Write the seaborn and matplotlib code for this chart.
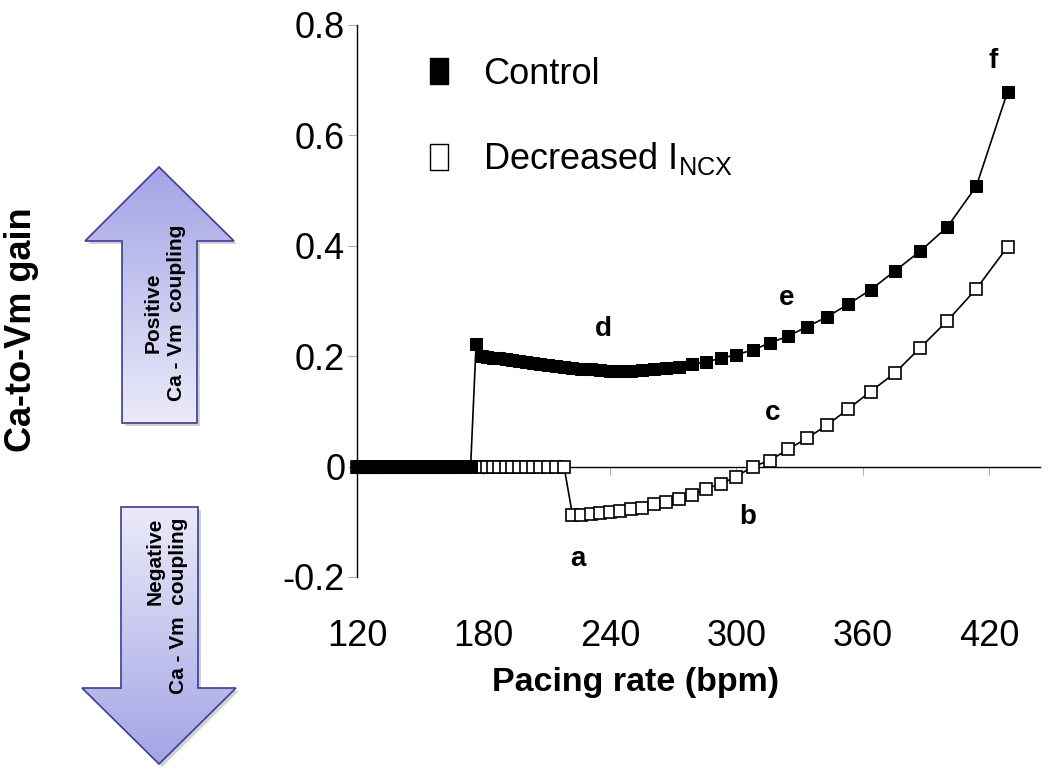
import matplotlib
matplotlib.use("Agg")
import matplotlib.pyplot as plt
import numpy as np
import seaborn as sns
from matplotlib.lines import Line2D
from matplotlib.patches import Polygon

# pacing rates (bpm), one per pacing cycle length
rates = [120.0, 121.2, 122.4, 123.7, 125.0, 126.3, 127.7, 129.0, 130.4, 131.9,
         133.3, 134.8, 136.4, 137.9, 139.5, 141.2, 142.9, 144.6, 146.3, 148.1,
         150.0, 151.9, 153.8, 155.8, 157.9, 160.0, 162.2, 164.4, 166.7, 169.0,
         171.4, 173.9, 176.5, 179.1, 181.8, 184.6, 187.5, 190.5, 193.5, 196.7,
         200.0, 203.4, 206.9, 210.5, 214.3, 218.2, 222.2, 226.4, 230.8, 235.3,
         240.0, 244.9, 250.0, 255.3, 260.9, 266.7, 272.7, 279.1, 285.7, 292.7,
         300.0, 307.7, 315.8, 324.3, 333.3, 342.9, 352.9, 363.6, 375.0, 387.1,
         400.0, 413.8, 428.6]

control = [0.0] * 32 + [
    0.222, 0.200, 0.198, 0.197, 0.196, 0.195, 0.193, 0.192, 0.190, 0.188,
    0.186, 0.184, 0.182, 0.180, 0.179, 0.177, 0.176, 0.175, 0.174, 0.174,
    0.174, 0.175, 0.176, 0.178, 0.181, 0.185, 0.190, 0.196, 0.203, 0.211,
    0.224, 0.236, 0.253, 0.271, 0.294, 0.320, 0.354, 0.390, 0.434, 0.508,
    0.679]

decreased = [0.0] * 46 + [
    -0.087, -0.087, -0.085, -0.084, -0.083, -0.081, -0.077, -0.075, -0.068,
    -0.064, -0.058, -0.051, -0.040, -0.031, -0.018, 0.000, 0.011, 0.031,
    0.051, 0.075, 0.104, 0.136, 0.169, 0.215, 0.264, 0.322, 0.398]

series_labels = ["Control", "Decreased I$_{NCX}$"]
xticks = [120, 180, 240, 300, 360, 420]
yticks = [-0.2, 0.0, 0.2, 0.4, 0.6, 0.8]
ytick_labels = ["-0.2", "0", "0.2", "0.4", "0.6", "0.8"]

point_letters = ["a", "b", "c", "d", "e", "f"]
letter_x = [224.8, 305.5, 317.3, 236.7, 324.0, 421.7]
letter_y = [-0.168, -0.091, 0.098, 0.250, 0.306, 0.734]

sns.set_theme(style="white")
plt.rcParams["font.family"] = ["Liberation Sans", "DejaVu Sans"]
plt.rcParams["mathtext.default"] = "regular"
for key in ["text.color", "axes.labelcolor", "xtick.labelcolor", "ytick.labelcolor"]:
    plt.rcParams[key] = "black"
NARROW = ["Liberation Sans Narrow", "Liberation Sans"]

W, H = 1050, 774
fig = plt.figure(figsize=(W / 100, H / 100), dpi=100)
ax = fig.add_axes([357 / W, 1 - 577 / H, (1040 - 357) / W, (577 - 25) / H])

sns.lineplot(x=rates, y=decreased, ax=ax, color="black", lw=1.2, marker="s",
             markersize=8, markerfacecolor="white", markeredgecolor="black",
             markeredgewidth=1.2, legend=False, zorder=3, clip_on=False)
sns.lineplot(x=rates, y=control, ax=ax, color="black", lw=1.2, marker="s",
             markersize=8, markerfacecolor="black", markeredgecolor="black",
             legend=False, zorder=4, clip_on=False)

ax.set_xlim(120, 444)
ax.set_ylim(-0.2, 0.8)
ax.set_xlabel("")
ax.set_ylabel("")

for s in ["top", "right"]:
    ax.spines[s].set_visible(False)
ax.spines["bottom"].set_position(("data", 0))
ax.spines["bottom"].set_color("black")
ax.spines["bottom"].set_linewidth(1.0)
ax.spines["left"].set_color("black")
ax.spines["left"].set_linewidth(1.0)

ax.set_xticks(xticks)
ax.tick_params(axis="x", bottom=True, length=6, width=0.8, color="#b0b0b0",
               direction="out", labelbottom=False)
ax.set_yticks(yticks)
ax.set_yticklabels(ytick_labels, fontfamily=NARROW, fontsize=26, color="black")
ax.tick_params(axis="y", left=True, length=6.5, width=0.8, color="#b0b0b0",
               direction="out", pad=2)

sec = ax.secondary_xaxis("bottom")
sec.set_xticks(xticks)
sec.set_xticklabels([str(t) for t in xticks], fontfamily=NARROW, fontsize=26, color="black")
sec.tick_params(length=0, pad=30)
sec.spines["bottom"].set_visible(False)

for lt, lx, ly in zip(point_letters, letter_x, letter_y):
    ax.text(lx, ly, lt, ha="center", va="center", fontsize=20, fontweight="bold",
            color="black")

handle_marker = [(-0.35, -0.5), (0.35, -0.5), (0.35, 0.5), (-0.35, 0.5), (-0.35, -0.5)]
handles = [
    Line2D([], [], ls="none", marker=handle_marker, markersize=19,
           markerfacecolor="black", markeredgecolor="black"),
    Line2D([], [], ls="none", marker=handle_marker, markersize=19,
           markerfacecolor="white", markeredgecolor="black", markeredgewidth=1.0),
]
leg = ax.legend(handles, series_labels, loc="upper left",
                bbox_to_anchor=(396 / W, 1 - 24 / H),
                bbox_transform=fig.transFigure, frameon=False,
                prop={"family": NARROW, "size": 26}, handlelength=0.6,
                handletextpad=0.9, labelspacing=1.35)
for t in leg.get_texts():
    t.set_color("black")

fig.text(22 / W, 1 - 330 / H, "Ca-to-Vm gain", rotation=90, ha="center", va="center",
         fontsize=26, fontweight="bold", color="black")
fig.text(636 / W, 1 - 683 / H, "Pacing rate (bpm)", ha="center", va="center",
         fontsize=24.5, fontweight="bold", color="black")

# coupling arrows, drawn in pixel coordinates
art = fig.add_axes([0, 0, 1, 1], zorder=-1)
art.axis("off")


def draw_arrow(pts, top_col, bot_col):
    pts = np.array(pts, dtype=float)
    art.add_patch(Polygon(pts + [3, 3], closed=True, fc="#9a9a9a", ec="none",
                          alpha=0.45, zorder=1))
    poly = Polygon(pts, closed=True, fc="none", ec="#3c3c98", lw=1.2, zorder=3)
    art.add_patch(poly)
    t = np.linspace(0, 1, 256)[:, None, None]
    img = (1 - t) * np.array(top_col)[None, None, :] + t * np.array(bot_col)[None, None, :]
    img = np.repeat(img, 4, axis=1)
    x0, x1 = pts[:, 0].min(), pts[:, 0].max()
    y0, y1 = pts[:, 1].min(), pts[:, 1].max()
    im = art.imshow(img, extent=(x0, x1, y1, y0), aspect="auto", origin="upper", zorder=2)
    im.set_clip_path(poly)


dark = (0.64, 0.64, 0.90)
light = (0.92, 0.92, 0.98)
draw_arrow([(159, 167), (234, 241), (197, 241), (197, 423), (122, 423), (122, 241), (85, 241)],
           dark, light)
draw_arrow([(121, 507), (198, 507), (198, 688), (236, 688), (159, 764), (82, 688), (121, 688)],
           light, dark)
art.set_xlim(0, W)
art.set_ylim(H, 0)

art.text(165, 313, "Positive\nCa - Vm  coupling", rotation=90, ha="center", va="center",
         multialignment="center", fontsize=15, fontweight="bold", linespacing=1.25,
         color="black", zorder=4)
art.text(167, 518, "Negative\nCa - Vm  coupling", rotation=90, ha="center", va="top",
         multialignment="right", fontsize=15, fontweight="bold", linespacing=1.25,
         color="black", zorder=4)

fig.savefig("out.png", dpi=100)
